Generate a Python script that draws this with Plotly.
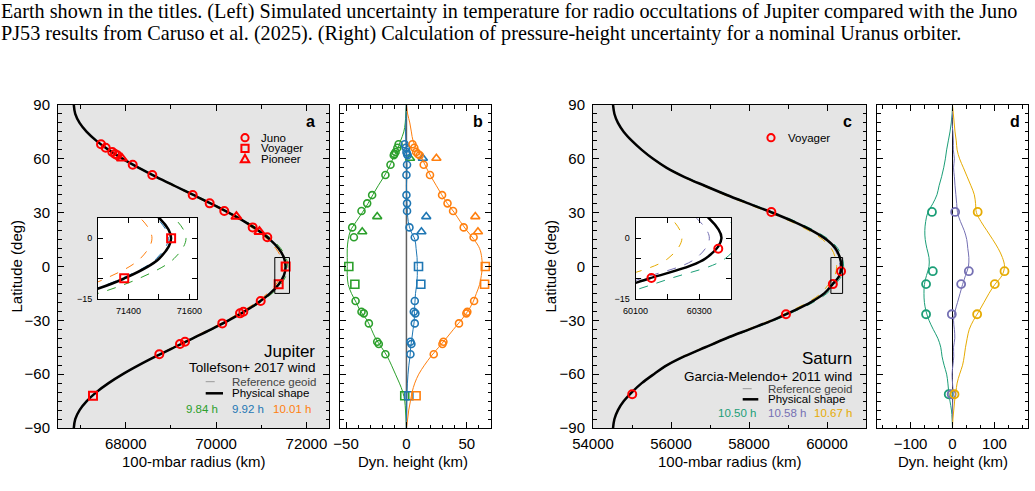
import plotly.graph_objects as go

W, H = 1035, 491
def px(x): return x / W
def py(y): return 1 - y / H

SANS = "Liberation Sans, Arial, sans-serif"
SERIF = "Liberation Serif, DejaVu Serif, serif"

# ---------------- data ----------------
lat_grid = [90, 85, 80, 75, 70, 65, 60, 55, 50, 45, 40, 35, 30, 25, 20, 15, 10, 5, 0,
            -5, -10, -15, -20, -25, -30, -35, -40, -45, -50, -55, -60, -65, -70, -75, -80, -85, -90]

# Jupiter physical shape (100-mbar radius, km)
jup_shape = [66850, 66882, 66978, 67136, 67352, 67620, 67935, 68290, 68674, 69076, 69485, 69890,
             70276, 70630, 70940, 71195, 71384, 71501, 71540,
             71501, 71384, 71195, 70940, 70630, 70276, 69890, 69485, 69076, 68674, 68290, 67935,
             67620, 67352, 67136, 66978, 66882, 66850]
# Jupiter dynamical heights (km) for three rotation periods
jup_dyn_984 = [0, -0.5, -1, -2.2, -4.9, -7.7, -11.3, -14.6, -18.7, -23.4, -27.8, -31.9, -36.6, -41.6,
               -46.3, -48.2, -49, -49, -49,
               -49, -48.2, -45.5, -41.6, -38, -32.5, -29, -25.6, -20.7, -16, -12.4, -9.1, -5.8, -3,
               -1.4, -0.8, -0.3, 0]
jup_dyn_992 = [0, -0.3, -0.5, -0.8, -0.5, 0, 0.3, 0.5, 0.3, 0, 0.2, 0.5, 0.8, 1.5, 3.5, 7, 8, 8.8, 9,
               9, 8.5, 7.5, 7, 6.6, 6.5, 5.5, 4.5, 3.5, 3, 2, 1.3, 0.8, 0.5, 0.3, 0.2, 0, 0]
jup_dyn_1001 = [0, 1, 2.8, 4.1, 5.5, 8.8, 13, 16.5, 20.4, 24.8, 29.2, 34, 39.7, 44.6, 50, 56, 60.6, 62.3, 62.8,
                62, 60.6, 57.9, 55, 50.7, 45.2, 39, 33, 26.7, 20.4, 14.9, 10.2, 6.9, 4.7, 3.3, 1.9, 1, 0]

# Jupiter observations
juno_lat = [68.1, 66.2, 63.8, 62.7, 62.0, 56.7, 51.0, 39.8, 35.2, 30.9, 21.8, 16.3,
            -19.2, -25.2, -26.1, -31.7, -41.9, -43.2, -48.9]
juno_r = [67452, 67556, 67702, 67762, 67813, 68154, 68588, 69482, 69858, 70182, 70810, 71134,
          70988, 70603, 70530, 70137, 69312, 69201, 68743]
juno_dyn_984 = [-6.5, -7.5, -9, -10, -10.5, -13.2, -17.4, -28.4, -32.5, -37.2, -44.9, -43.5,
                -42.1, -37.2, -35.3, -31.1, -24.2, -22.9, -17.4]
juno_dyn_992 = [-1.5, -0.5, 0, 0.5, 1, 0.5, 0, 0, 0.5, 0.5, 2.5, 6.9,
                6.9, 6.1, 7.4, 6.9, 3.3, 4.1, 3.3]
juno_dyn_1001 = [5, 6.5, 8, 9.5, 11, 14.3, 19.5, 29.5, 34, 38.6, 47.4, 55.6,
                 56, 50.4, 49.6, 43.5, 30.6, 29.8, 22.6]

voy_lat = [0.0, -9.9, -72.0]
voy_r = [71540, 71386, 67275]
voy_dyn_984 = [-47.7, -42.7, -1.4]
voy_dyn_992 = [10, 11.9, 2]
voy_dyn_1001 = [65.3, 64.7, 8]

pio_lat = [60.3, 27.8, 19.4]
pio_r = [67914, 70450, 70960]
pio_dyn_984 = [3, -24.2, -36.6]
pio_dyn_992 = [13.6, 16.4, 12.4]
pio_dyn_1001 = [24.8, 57, 59.2]

# Saturn physical shape
sat_shape = [54514, 54550, 54640, 54790, 55000, 55250, 55540, 55890, 56335, 56865, 57415, 58000,
             58595, 59145, 59615, 59985, 60220, 60330, 60370,
             60320, 60140, 59930, 59580, 59110, 58600, 58010, 57420, 56880, 56350, 55900, 55560,
             55250, 55000, 54790, 54640, 54550, 54514]
sat_dyn_1050 = [0, -1, -3, -6, -10, -14, -17, -21, -26, -32, -37, -47, -59, -64, -66, -65, -61, -56, -56,
                -62, -67, -68, -67, -63, -56, -46, -35, -28, -25, -20, -14, -11, -9, -6, -2.5, -1, 0]
sat_dyn_1058 = [0, 0, -1, 1, 2, 2, 4.5, 2.5, 4.5, 6, 8, 10, 12, 19, 28, 34, 36.5, 39, 38,
                31, 24, 18, 12, 6, 2.5, 4.5, 5.5, 2.5, 3, 1, -1, 0, 1.5, 0.5, 0, 0, 0]
sat_dyn_1067 = [0, 2, 4, 6, 9, 11, 17, 26, 35, 44, 52, 55, 57, 68, 82, 96, 109, 119, 124,
                118, 101, 87, 75, 63, 50, 40, 35, 31, 28, 24, 17, 11, 8, 5, 3, 1, 0]

sat_voy_lat = [30.4, -2.6, -9.8, -26.6, -71.2]
sat_voy_r = [58573, 60360, 60150, 58948, 55006]
sat_voy_dyn_1050 = [-49, -47, -63, -63, -9]
sat_voy_dyn_1058 = [6.3, 38.9, 20.6, -1.6, -2]
sat_voy_dyn_1067 = [60, 124, 100.8, 58.7, 4.8]

jup_periods = ["9.84 h", "9.92 h", "10.01 h"]
sat_periods = ["10.50 h", "10.58 h", "10.67 h"]
jup_colors = ["#2ca02c", "#1f77b4", "#ff7f0e"]
sat_colors = ["#1b9e77", "#7570b3", "#e6ab02"]
RED = "#ff0000"

caption1 = "Earth shown in the titles. (Left) Simulated uncertainty in temperature for radio occultations of Jupiter compared with the Juno"
caption2 = "PJ53 results from Caruso et al. (2025). (Right) Calculation of pressure-height uncertainty for a nominal Uranus orbiter."

# ---------------- figure ----------------
fig = go.Figure()

def geoid(shape, dyn):
    return [s - d for s, d in zip(shape, dyn)]

def add_shape_panel(shape, dyns, colors, xa, ya, lw):
    for dyn, col in zip(dyns, colors):
        fig.add_trace(go.Scatter(x=geoid(shape, dyn), y=lat_grid, mode="lines",
                                 line=dict(color=col, width=1, dash="dash", shape="spline"),
                                 xaxis=xa, yaxis=ya, showlegend=False, hoverinfo="skip"))
    fig.add_trace(go.Scatter(x=shape, y=lat_grid, mode="lines",
                             line=dict(color="black", width=lw, shape="spline"),
                             xaxis=xa, yaxis=ya, showlegend=False, hoverinfo="skip"))

def add_obs(xs, ys, symbol, color, size, lw, xa, ya):
    fig.add_trace(go.Scatter(x=xs, y=ys, mode="markers",
                             marker=dict(symbol=symbol, size=size, color=color, line=dict(width=lw, color=color)),
                             xaxis=xa, yaxis=ya, showlegend=False, hoverinfo="skip"))

jd = [jup_dyn_984, jup_dyn_992, jup_dyn_1001]
sd = [sat_dyn_1050, sat_dyn_1058, sat_dyn_1067]

# Panel a + inset
for xa, ya, lw in [("x", "y", 2.5), ("x5", "y5", 2.5)]:
    add_shape_panel(jup_shape, jd, jup_colors, xa, ya, lw)
    add_obs(juno_r, juno_lat, "circle-open", RED, 8, 2, xa, ya)
    add_obs(voy_r, voy_lat, "square-open", RED, 8, 2, xa, ya)
    add_obs(pio_r, pio_lat, "triangle-up-open", RED, 9, 2, xa, ya)

# Panel b
for dyn, jd_, vd, pd_, col in zip(jd, [juno_dyn_984, juno_dyn_992, juno_dyn_1001],
                                  [voy_dyn_984, voy_dyn_992, voy_dyn_1001],
                                  [pio_dyn_984, pio_dyn_992, pio_dyn_1001], jup_colors):
    fig.add_trace(go.Scatter(x=dyn, y=lat_grid, mode="lines",
                             line=dict(color=col, width=1, shape="spline"),
                             xaxis="x2", yaxis="y2", showlegend=False, hoverinfo="skip"))
    add_obs(jd_, juno_lat, "circle-open", col, 7, 1.6, "x2", "y2")
    add_obs(vd, voy_lat, "square-open", col, 8, 1.6, "x2", "y2")
    add_obs(pd_, pio_lat, "triangle-up-open", col, 8, 1.6, "x2", "y2")

# Panel c + inset
for xa, ya in [("x3", "y3"), ("x6", "y6")]:
    add_shape_panel(sat_shape, sd, sat_colors, xa, ya, 2.5)
    add_obs(sat_voy_r, sat_voy_lat, "circle-open", RED, 8, 2, xa, ya)

# Panel d
for dyn, vd, col in zip(sd, [sat_voy_dyn_1050, sat_voy_dyn_1058, sat_voy_dyn_1067], sat_colors):
    fig.add_trace(go.Scatter(x=dyn, y=lat_grid, mode="lines",
                             line=dict(color=col, width=1, shape="spline"),
                             xaxis="x4", yaxis="y4", showlegend=False, hoverinfo="skip"))
    add_obs(vd, sat_voy_lat, "circle-open", col, 8, 1.8, "x4", "y4")

# ---------------- axes ----------------
def axis(domain, rng, anchor, dtick=None, tick0=0, mdtick=None, labels=True, fsize=15,
         tickvals=None, ticklen=6, mlen=3.5, standoff=None):
    d = dict(domain=domain, range=rng, anchor=anchor, showline=True, linecolor="black", linewidth=1,
             mirror="ticks", ticks="inside", ticklen=ticklen, tickwidth=1, tickcolor="black",
             showgrid=False, zeroline=False, showticklabels=labels, tickformat="d",
             tickfont=dict(family=SANS, size=fsize, color="black"))
    if tickvals is not None:
        d["tickmode"] = "array"; d["tickvals"] = tickvals
    else:
        d["dtick"] = dtick; d["tick0"] = tick0
    if mdtick is not None:
        d["minor"] = dict(dtick=mdtick, tick0=tick0 if tickvals is None else 0, ticks="inside",
                          ticklen=mlen, tickwidth=1, tickcolor="black", showgrid=False)
    if standoff is not None:
        d["ticklabelstandoff"] = standoff
    return d

ydom = [py(428), py(105)]
fig.update_layout(
    xaxis=axis([px(58), px(329)], [66500, 72500], "y", 2000, 0, 1000, standoff=2),
    yaxis=axis(ydom, [-90, 90], "x", 30, 0, 5, standoff=4),
    xaxis2=axis([px(340), px(491)], [-55, 70], "y2", 50, 0, 10, standoff=2),
    yaxis2=axis(ydom, [-90, 90], "x2", 30, 0, 5, labels=False),
    xaxis3=axis([px(593), px(866)], [54000, 61000], "y3", 2000, 0, 1000, standoff=2),
    yaxis3=axis(ydom, [-90, 90], "x3", 30, 0, 5, standoff=4),
    xaxis4=axis([px(877), px(1028)], [-180, 180], "y4", 100, 0, 100 / 3, standoff=2),
    yaxis4=axis(ydom, [-90, 90], "x4", 30, 0, 5, labels=False),
    xaxis5=axis([px(98), px(197)], [71300, 71625], "y5", tickvals=[71400, 71600], mdtick=100,
                fsize=9, ticklen=5, mlen=5, standoff=3),
    yaxis5=axis([py(299), py(218)], [-15, 5], "x5", tickvals=[-15, 0], mdtick=5,
                fsize=9, ticklen=5, mlen=5, standoff=3),
    xaxis6=axis([px(635.5), px(731)], [60100, 60400], "y6", tickvals=[60100, 60300], mdtick=100,
                fsize=9, ticklen=5, mlen=5, standoff=3),
    yaxis6=axis([py(299), py(218)], [-15, 5], "x6", tickvals=[-15, 0], mdtick=5,
                fsize=9, ticklen=5, mlen=5, standoff=3),
)

shapes = []
GRAY_BG = "#e5e5e5"
for xr, yr in [("x", "y"), ("x3", "y3")]:
    shapes.append(dict(type="rect", xref=xr + " domain", yref=yr + " domain", x0=0, x1=1, y0=0, y1=1,
                       fillcolor=GRAY_BG, line=dict(width=0), layer="below"))
# zoom boxes
shapes.append(dict(type="rect", xref="x", yref="y", x0=71300, x1=71625, y0=-15, y1=5,
                   line=dict(color="black", width=1), layer="above"))
shapes.append(dict(type="rect", xref="x3", yref="y3", x0=60100, x1=60400, y0=-15, y1=5,
                   line=dict(color="black", width=1), layer="above"))
# zero lines
shapes.append(dict(type="line", xref="x2", yref="y2 domain", x0=0, x1=0, y0=0, y1=1,
                   line=dict(color="#606060", width=1.5), layer="below"))
shapes.append(dict(type="line", xref="x4", yref="y4 domain", x0=0, x1=0, y0=0, y1=1,
                   line=dict(color="black", width=1), layer="below"))

# legend glyphs
def glyph_circle(cx, cy, r=3.6):
    return dict(type="circle", xref="paper", yref="paper", xsizemode="pixel", ysizemode="pixel",
                xanchor=px(cx), yanchor=py(cy), x0=-r, x1=r, y0=-r, y1=r,
                line=dict(color=RED, width=2))
def glyph_square(cx, cy, r=3.6):
    return dict(type="rect", xref="paper", yref="paper", xsizemode="pixel", ysizemode="pixel",
                xanchor=px(cx), yanchor=py(cy), x0=-r, x1=r, y0=-r, y1=r,
                line=dict(color=RED, width=2))
def glyph_tri(cx, cy, r=4.2):
    return dict(type="path", xref="paper", yref="paper", xsizemode="pixel", ysizemode="pixel",
                xanchor=px(cx), yanchor=py(cy),
                path=f"M {-r},{-r*0.75} L {r},{-r*0.75} L 0,{r} Z",
                line=dict(color=RED, width=2))
shapes += [glyph_circle(245, 137.7), glyph_square(245, 148.3), glyph_tri(245, 159),
           glyph_circle(771, 137.7)]
# line legend samples
for x0, x1, yg, yp in [(205.7, 223, 381.7, 393.3), (742.7, 758.3, 388.7, 399.3)]:
    shapes.append(dict(type="line", xref="paper", yref="paper", x0=px(x0), x1=px(x1), y0=py(yg), y1=py(yg),
                       line=dict(color="#999999", width=1, dash="dash")))
    shapes.append(dict(type="line", xref="paper", yref="paper", x0=px(x0), x1=px(x1), y0=py(yp), y1=py(yp),
                       line=dict(color="black", width=2.5)))

annotations = []
def ann(text, x, y, size, color="black", xanchor="center", family=SANS, angle=0):
    annotations.append(dict(text=text, x=px(x), y=py(y), xref="paper", yref="paper", showarrow=False,
                            xanchor=xanchor, yanchor="middle", textangle=angle, borderpad=0,
                            font=dict(family=family, size=size, color=color)))

ann(caption1, 0, 11, 20.2, xanchor="left", family=SERIF)
ann(caption2, 0, 33.5, 20.2, xanchor="left", family=SERIF)
for t, x in [("a", 310.7), ("b", 478.3), ("c", 847.7), ("d", 1015)]:
    ann("<b>%s</b>" % t, x, 121.7, 16)
ann("Juno", 260, 137.7, 11.5, xanchor="left")
ann("Voyager", 260, 148.3, 11.5, xanchor="left")
ann("Pioneer", 260, 159, 11.5, xanchor="left")
ann("Voyager", 787, 137.7, 11.5, xanchor="left")
ann("Jupiter", 316, 351.7, 17, xanchor="right")
ann("Tollefson+ 2017 wind", 316, 367.3, 13.5, xanchor="right")
ann("Reference geoid", 230.7, 381.7, 11.5, color="#444444", xanchor="left")
ann("Physical shape", 230.7, 393.3, 11.5, xanchor="left")
for t, x, c in zip(jup_periods, [201.7, 248, 291.7], jup_colors):
    ann(t, x, 409.3, 11.5, color=c)
ann("Saturn", 852.7, 358.3, 17, xanchor="right")
ann("Garcia-Melendo+ 2011 wind", 852.7, 376, 13.5, xanchor="right")
ann("Reference geoid", 767.3, 388.7, 11.5, color="#444444", xanchor="left")
ann("Physical shape", 767.3, 399.3, 11.5, xanchor="left")
for t, x, c in zip(sat_periods, [736.7, 787.3, 833.3], sat_colors):
    ann(t, x, 413.3, 11.5, color=c)
ann("100-mbar radius (km)", 193.5, 461, 15)
ann("Dyn. height (km)", 413, 461, 15)
ann("100-mbar radius (km)", 729.5, 461, 15)
ann("Dyn. height (km)", 952.5, 461, 15)
ann("Latitude (deg)", 16, 266.5, 15, angle=-90)
ann("Latitude (deg)", 550, 266.5, 15, angle=-90)

fig.update_layout(width=W, height=H, margin=dict(l=0, r=0, t=0, b=0, autoexpand=False),
                  paper_bgcolor="white", plot_bgcolor="white",
                  shapes=shapes, annotations=annotations, showlegend=False)

fig.write_html("out.html",
               post_script="document.body.style.margin='0';document.body.style.padding='0';"
                           "document.documentElement.style.overflow='hidden';")
